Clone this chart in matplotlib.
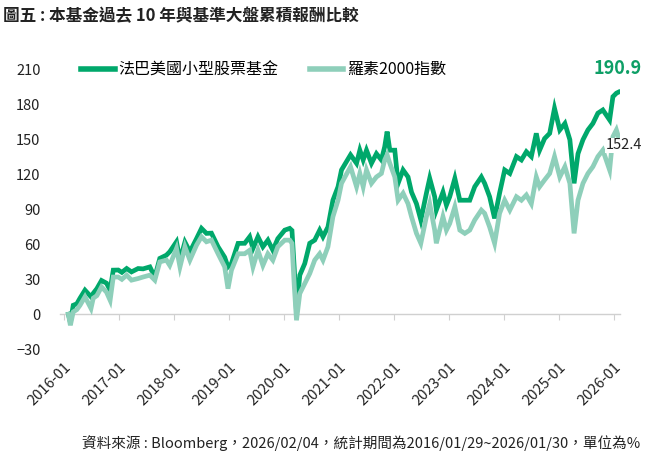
import pandas as pd
import matplotlib
matplotlib.use("Agg")
import matplotlib.pyplot as plt
import matplotlib.dates as mdates

plt.rcParams['font.family'] = ['Noto Sans CJK TC', 'DejaVu Sans']

# 讀圖估計的累積報酬 (%)
dates = [
    "2016-01-29", "2016-02-11", "2016-03-01", "2016-03-25", "2016-04-15", "2016-05-18",
    "2016-06-27", "2016-07-12", "2016-08-05", "2016-09-05", "2016-10-08", "2016-11-01",
    "2016-11-22", "2016-12-25", "2017-01-18", "2017-02-19", "2017-03-23", "2017-05-06",
    "2017-06-08", "2017-07-23", "2017-08-25", "2017-09-27", "2017-11-10", "2017-12-02",
    "2018-01-16", "2018-02-08", "2018-03-13", "2018-04-15", "2018-05-29", "2018-07-01",
    "2018-08-03", "2018-09-05", "2018-10-19", "2018-12-02", "2018-12-24", "2019-01-16",
    "2019-03-01", "2019-04-14", "2019-05-17", "2019-06-08", "2019-07-11", "2019-08-13",
    "2019-09-15", "2019-10-18", "2019-11-20", "2020-01-05", "2020-02-07", "2020-02-22",
    "2020-03-08", "2020-03-23", "2020-04-14", "2020-05-17", "2020-06-19", "2020-07-22",
    "2020-08-24", "2020-09-15", "2020-10-18", "2020-11-20", "2020-12-24", "2021-01-16",
    "2021-02-08", "2021-03-17", "2021-04-26", "2021-05-18", "2021-06-09", "2021-07-01",
    "2021-08-03", "2021-09-05", "2021-10-08", "2021-10-30", "2021-11-15", "2021-12-03",
    "2022-01-05", "2022-01-27", "2022-03-01", "2022-04-03", "2022-04-26", "2022-05-29",
    "2022-06-27", "2022-08-03", "2022-08-25", "2022-09-27", "2022-10-08", "2022-11-21",
    "2022-12-14", "2023-01-05", "2023-02-08", "2023-03-13", "2023-04-15", "2023-05-18",
    "2023-06-20", "2023-08-03", "2023-08-25", "2023-09-27", "2023-10-30", "2023-12-02",
    "2024-01-05", "2024-02-08", "2024-03-23", "2024-04-25", "2024-05-28", "2024-06-30",
    "2024-08-02", "2024-08-24", "2024-09-26", "2024-10-30", "2024-12-01", "2025-01-05",
    "2025-02-08", "2025-03-13", "2025-04-10", "2025-05-06", "2025-06-08", "2025-07-11",
    "2025-08-13", "2025-09-15", "2025-10-18", "2025-12-02", "2025-12-24", "2026-01-16",
    "2026-01-30",
]
fund = [
    0, -7, 7.7, 9, 13.8, 20.7,
    15, 18, 22, 29, 26.7, 20.7,
    37.9, 38, 36, 39.3, 36.4, 39.3,
    39, 40.7, 32, 48, 50.8, 53.7,
    62.3, 46.5, 62, 53.7, 65, 73.8,
    69.5, 69.7, 58, 49, 40.7, 43.6,
    60.9, 61, 66.6, 56.6, 66.6, 58,
    63.7, 55, 65, 72.3, 73.8, 72,
    40, 2, 33.6, 43.6, 61, 63.7,
    72.3, 66.6, 75, 98, 109.6, 124,
    129, 137, 129.7, 141, 132.6, 141,
    129.7, 138, 132.6, 144, 157, 141,
    141, 112.5, 124, 118, 105, 95,
    81, 104, 116.8, 101, 89.5, 105,
    93.8, 101, 116.8, 98, 98, 98,
    109.6, 118, 112.5, 101, 82.4, 104,
    124, 121, 135.5, 132.6, 139.7, 135.5,
    155.5, 141, 151, 155.5, 177, 158.4,
    164, 150, 112.5, 138, 150, 158.4,
    164, 172.8, 175.6, 167, 187, 190,
    190.9,
]
russell = [
    0, -9.5, 2, 4, 7.7, 15,
    5, 13.8, 16, 23.5, 19, 12,
    32, 32, 30, 33.6, 29.3, 30.7,
    32, 33.6, 29.3, 45, 46.5, 42,
    56.6, 40.7, 58, 46.5, 59.4, 66.6,
    62.3, 63.7, 52, 40.7, 22, 37.9,
    52, 52, 55, 40.7, 55, 42,
    52, 46.5, 58, 63.7, 63.7, 61,
    25, -5.2, 17.8, 26.4, 35, 46.5,
    52, 46.5, 58, 83.8, 98, 112.5,
    118, 126.8, 109.6, 121, 109.6, 124,
    112.5, 118, 121, 132.6, 137, 129.7,
    118, 98, 104, 95, 83.8, 69.5,
    61, 83.8, 95, 72.3, 61, 83.8,
    72.3, 78, 92.4, 72.3, 69.5, 72.3,
    81, 89.5, 86.7, 75, 61, 86.7,
    98, 89.5, 101, 98, 102.5, 95,
    118, 109.6, 115.4, 121, 135.5, 118,
    126.8, 112.5, 69.5, 98, 112.5, 121,
    126.8, 135.5, 141, 124, 152.6, 158.4,
    152.4,
]
series_names = ["法巴美國小型股票基金", "羅素2000指數"]
yticks = list(range(-30, 211, 30))
xticks = [f"{y}-01-01" for y in range(2016, 2027)]

dark = '#00A86B'
light = '#8ECFBA'

df = pd.DataFrame({'date': pd.to_datetime(dates), 'fund': fund, 'russell': russell})

fig = plt.figure(figsize=(6.45, 4.57), dpi=100)
ax = fig.add_axes([0.093, 0.236, 0.868, 0.611])

ax.plot(df['date'], df['fund'], color=dark, lw=3.4, label=series_names[0],
        solid_joinstyle='miter', zorder=3)
ax.plot(df['date'], df['russell'], color=light, lw=3.4, label=series_names[1],
        solid_joinstyle='miter', zorder=4)

ax.set_ylim(-30, 210)
ax.set_yticks(yticks)
ax.set_xlim(pd.Timestamp("2015-12-04"), pd.Timestamp("2026-02-08"))
ax.set_xticks(pd.to_datetime(xticks))
ax.xaxis.set_major_formatter(mdates.DateFormatter("%Y-%m"))

for s in ['top', 'right', 'left']:
    ax.spines[s].set_visible(False)
ax.spines['bottom'].set_position(('data', 0))
ax.spines['bottom'].set_color('#d0d0d0')
ax.spines['bottom'].set_linewidth(1.0)

ax.tick_params(axis='y', length=0, pad=14, labelsize=10.5, labelcolor='#222222')
ax.tick_params(axis='x', length=4, color='#d0d0d0', direction='out', pad=29,
               labelsize=10.5, labelcolor='#222222')
for lbl in ax.get_xticklabels():
    lbl.set_rotation(45)
    lbl.set_ha('right')
    lbl.set_rotation_mode('anchor')

# 期末數值標註
ax.annotate(f"{fund[-1]:.1f}", (df['date'].iloc[-1], fund[-1]), xytext=(-1, 10),
            textcoords='offset points', ha='center', va='bottom', fontsize=13,
            color='#0E9F66', fontweight='bold', annotation_clip=False, zorder=6)
ax.annotate(f"{russell[-1]:.1f}", (df['date'].iloc[-1], russell[-1]), xytext=(4, -6),
            textcoords='offset points', ha='center', va='center', fontsize=10.5,
            color='#222222', annotation_clip=False, zorder=6,
            bbox=dict(facecolor='white', edgecolor='none', pad=0.5))

leg = ax.legend(loc='center left', bbox_to_anchor=(0.038, 1.0), ncol=2, frameon=False,
                fontsize=11.5, handlelength=2.1, handletextpad=0.2, columnspacing=2.0,
                borderaxespad=0, borderpad=0)
for h in leg.get_lines():
    h.set_linewidth(4)

fig.text(0.005, 0.985, "圖五 : 本基金過去 10 年與基準大盤累積報酬比較", ha='left', va='top',
         fontsize=12, fontweight='bold', color='#222222')
fig.text(0.992, 0.031, "資料來源 : Bloomberg，2026/02/04，統計期間為2016/01/29~2026/01/30，單位為%",
         ha='right', va='center', fontsize=10.5, color='#222222')

fig.savefig("out.png", dpi=100)
